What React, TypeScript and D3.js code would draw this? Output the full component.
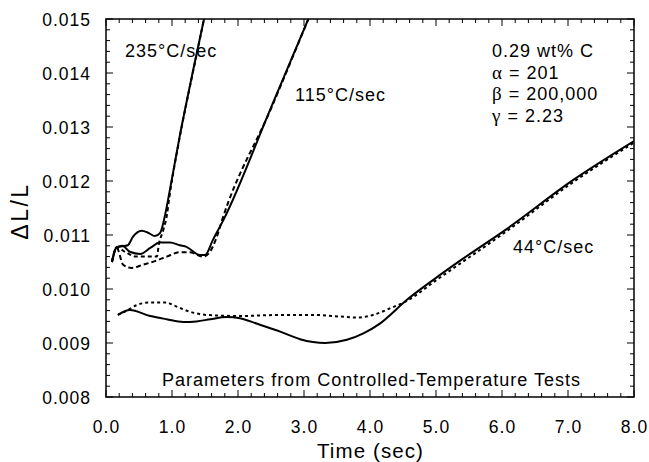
import React from "react";
import * as d3 from "d3";

const xTicks = [0, 1, 2, 3, 4, 5, 6, 7, 8];
const yTicks = [0.008, 0.009, 0.01, 0.011, 0.012, 0.013, 0.014, 0.015];

const time235Solid = [0.09, 0.16, 0.33, 0.41, 0.54, 0.64, 0.74, 0.82, 0.9, 0.94, 1.12, 1.32, 1.52];
const dl235Solid = [0.0105, 0.01077, 0.01081, 0.01097, 0.01108, 0.01104, 0.01098, 0.01104, 0.0114, 0.01165, 0.01285, 0.01405, 0.0152];

const time235Model = [0.09, 0.16, 0.3, 0.45, 0.6, 0.77, 0.8, 0.87, 0.92, 0.96, 1.12, 1.32, 1.52];
const dl235Model = [0.0105, 0.01077, 0.01068, 0.0106, 0.0106, 0.0106, 0.01082, 0.0111, 0.01135, 0.0117, 0.01283, 0.01403, 0.0152];

const time115Solid = [0.09, 0.16, 0.25, 0.36, 0.52, 0.67, 0.82, 0.97, 1.12, 1.22, 1.42, 1.5, 1.62, 1.78, 2.5, 3.1];
const dl115Solid = [0.0105, 0.01077, 0.0108, 0.01069, 0.01065, 0.01076, 0.01086, 0.01086, 0.01081, 0.01078, 0.01063, 0.01063, 0.01091, 0.01128, 0.01336, 0.0151];

const time115Model = [0.09, 0.16, 0.26, 0.39, 0.56, 0.75, 0.92, 1.12, 1.27, 1.47, 1.55, 1.68, 1.76, 2.5, 3.1];
const dl115Model = [0.0105, 0.01077, 0.01045, 0.01039, 0.01045, 0.01052, 0.0106, 0.01068, 0.01068, 0.0106, 0.01065, 0.01097, 0.01128, 0.01334, 0.0151];

const time44Solid = [0.18, 0.36, 0.67, 0.92, 1.17, 1.37, 1.58, 1.83, 2.03, 2.28, 2.64, 2.94, 3.32, 3.65, 3.9, 4.15, 4.56, 4.96, 5.36, 6.07, 7.08, 8.0];
const dl44Solid = [0.00952, 0.00961, 0.0095, 0.00944, 0.00939, 0.0094, 0.00944, 0.00948, 0.00946, 0.00936, 0.00921, 0.00907, 0.009, 0.00906, 0.00918, 0.00936, 0.0098, 0.01017, 0.01052, 0.01111, 0.01202, 0.01274];

const time44Model = [0.18, 0.36, 0.46, 0.67, 0.92, 1.02, 1.27, 1.52, 2.03, 2.64, 3.14, 3.55, 3.8, 4.05, 4.3, 4.56, 5.0, 6.07, 7.08, 8.0];
const dl44Model = [0.00952, 0.00963, 0.0097, 0.00975, 0.00975, 0.0097, 0.00958, 0.00952, 0.0095, 0.00952, 0.00952, 0.00949, 0.00947, 0.00952, 0.00964, 0.00978, 0.01016, 0.01107, 0.01198, 0.01271];

const infoLines = [
  { sym: "", text: "0.29 wt% C" },
  { sym: "α", text: " = 201" },
  { sym: "β", text: " = 200,000" },
  { sym: "γ", text: " = 2.23" },
];

const W = 649;
const H = 462;
const M = { left: 106, right: 634, top: 19, bottom: 397 };
const FONT = "'Liberation Sans', Arial, Helvetica, sans-serif";
const LS = 1;

export default function App() {
  const x = d3.scaleLinear().domain([0, 8]).range([M.left, M.right]);
  const y = d3.scaleLinear().domain([0.008, 0.015]).range([M.bottom, M.top]);

  const mk = (t: number[], v: number[]) => {
    const line = d3
      .line<number>()
      .x((_, i) => x(t[i]))
      .y((_, i) => y(v[i]))
      .curve(d3.curveMonotoneX);
    return line(t) || "";
  };

  const series = [
    { t: time235Solid, v: dl235Solid, dash: undefined },
    { t: time235Model, v: dl235Model, dash: "4,3" },
    { t: time115Solid, v: dl115Solid, dash: undefined },
    { t: time115Model, v: dl115Model, dash: "5,3" },
    { t: time44Solid, v: dl44Solid, dash: undefined },
    { t: time44Model, v: dl44Model, dash: "3,3" },
  ];

  const xMinor = d3.range(0, 8.0001, 0.2);
  const yMinor = d3.range(0.008, 0.0150001, 0.0002);
  const majLen = 7;
  const minLen = 4;
  const isMajorX = (v: number) => Math.abs(v - Math.round(v)) < 1e-6;
  const isMajorY = (v: number) => Math.abs(v * 1000 - Math.round(v * 1000)) < 1e-6;

  return (
    <svg width={W} height={H} style={{ position: "absolute", left: 0, top: 0, background: "#fff" }}>
      <defs>
        <clipPath id="plotClip">
          <rect x={M.left} y={M.top} width={M.right - M.left} height={M.bottom - M.top} />
        </clipPath>
      </defs>
      <g stroke="#000" strokeWidth={1}>
        {xMinor.map((v, i) => {
          const L = isMajorX(v) ? majLen : minLen;
          return (
            <g key={"xt" + i}>
              <line x1={x(v)} x2={x(v)} y1={M.bottom} y2={M.bottom - L} />
              <line x1={x(v)} x2={x(v)} y1={M.top} y2={M.top + L} />
            </g>
          );
        })}
        {yMinor.map((v, i) => {
          const L = isMajorY(v) ? majLen : minLen;
          return (
            <g key={"yt" + i}>
              <line x1={M.left} x2={M.left + L} y1={y(v)} y2={y(v)} />
              <line x1={M.right} x2={M.right - L} y1={y(v)} y2={y(v)} />
            </g>
          );
        })}
      </g>
      <rect x={M.left} y={M.top} width={M.right - M.left} height={M.bottom - M.top} fill="none" stroke="#000" strokeWidth={1.5} />
      <g fontFamily={FONT} fontSize={17.5} fill="#000" letterSpacing={1}>
        {xTicks.map((v) => (
          <text key={"xl" + v} x={x(v) + 0.5} y={433} textAnchor="middle">
            {d3.format(".1f")(v)}
          </text>
        ))}
        {yTicks.map((v) => (
          <text key={"yl" + v} x={91} y={y(v) + 6.5} textAnchor="end">
            {d3.format(".3f")(v)}
          </text>
        ))}
      </g>
      <text x={370.5} y={458} textAnchor="middle" fontFamily={FONT} fontSize={20.5} letterSpacing={1.1}>
        Time (sec)
      </text>
      <text
        transform={`translate(28,211) rotate(-90)`}
        textAnchor="middle"
        fontFamily={FONT}
        fontSize={23}
        letterSpacing={2.5}
      >
        ΔL/L
      </text>
      <g clipPath="url(#plotClip)" fill="none" stroke="#000" strokeWidth={2}>
        {series.map((s, i) => (
          <path key={"s" + i} d={mk(s.t, s.v)} strokeDasharray={s.dash} />
        ))}
      </g>
      <g fontFamily={FONT} fontSize={18} fill="#000" letterSpacing={LS}>
        <text x={125} y={57}>235°C/sec</text>
        <text x={295} y={101}>115°C/sec</text>
        <text x={513} y={253}>44°C/sec</text>
        {infoLines.map((l, i) => (
          <text key={"info" + i} x={492} y={57 + i * 21.5}>
            {l.sym && <tspan fontFamily="'Liberation Serif', 'Times New Roman', serif" fontSize={19}>{l.sym}</tspan>}
            {l.text}
          </text>
        ))}
        <text x={371 + LS / 2} y={386} textAnchor="middle">
          Parameters from Controlled-Temperature Tests
        </text>
      </g>
    </svg>
  );
}
